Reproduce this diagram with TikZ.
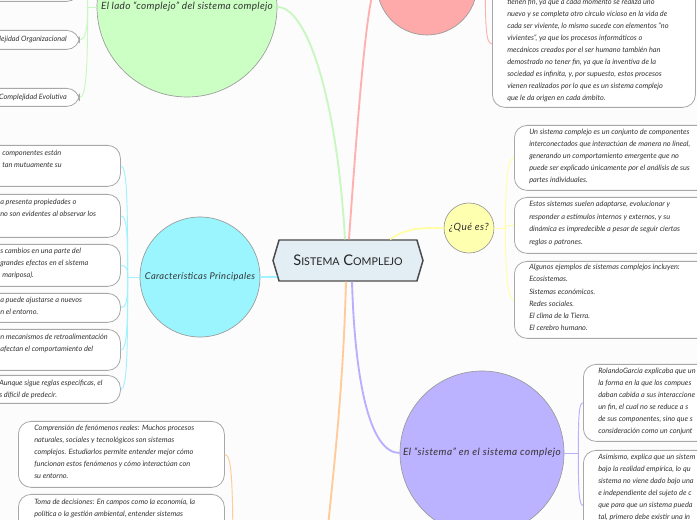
\documentclass[tikz,border=0pt]{standalone}
\usepackage{fontspec}
\setmainfont{Lato}
\usetikzlibrary{shapes.symbols,calc}

\definecolor{paper}{HTML}{FCFCFC}
\definecolor{inktext}{HTML}{333333}
\definecolor{rimgray}{HTML}{9A9A9A}
\definecolor{leafline}{HTML}{A8A8A8}
\definecolor{coreline}{HTML}{4A4A4A}
\definecolor{corefill}{HTML}{E2EEF4}
\definecolor{grnfill}{HTML}{CCFFC4}
\definecolor{grnline}{HTML}{C8F8C0}
\definecolor{redfill}{HTML}{FFAAAA}
\definecolor{redline}{HTML}{FFB0B0}
\definecolor{yelfill}{HTML}{FFFFB0}
\definecolor{yelline}{HTML}{FFFFA8}
\definecolor{cyafill}{HTML}{9BF5FF}
\definecolor{cyaline}{HTML}{A0F2FF}
\definecolor{purfill}{HTML}{BBB3FF}
\definecolor{purline}{HTML}{B8B0FF}
\definecolor{orgline}{HTML}{FFCC99}

\def\pxu{0.75pt}
\newcommand{\leaffont}{\fontsize{5.5}{9}\selectfont\itshape}
\newcommand{\topicfont}{\fontsize{7.5}{8.5}\selectfont\itshape\addfontfeatures{LetterSpace=5}}

\begin{document}
\begin{tikzpicture}[x=0.75pt,y=-0.75pt,
  leaf/.style={draw=leafline, fill=white, rounded corners=9.5pt, line width=0.6pt, inner sep=0pt, anchor=north west},
  leaftext/.style={font=\leaffont, text=inktext, align=left, inner sep=0pt, anchor=north west},
  topic/.style={circle, draw=rimgray, line width=0.5pt, font=\topicfont, text=inktext, inner sep=0pt},
  twig/.style={line width=0.7pt},
  limb/.style={line width=1.4pt}]
\useasboundingbox (0,0) rectangle (697,520);
\clip (0,0) rectangle (697,520);
\fill[paper] (0,0) rectangle (697,520);

\node[shape=signal, signal to=east and west, signal pointer angle=147, draw=coreline, fill=corefill, line width=1.1pt,
  minimum width=150*\pxu, minimum height=41*\pxu, inner sep=0pt, text=black!85] (core) at (348,260.5)
  {\fontsize{11}{11}\selectfont S{\fontsize{8}{8}\selectfont ISTEMA} C{\fontsize{8}{8}\selectfont OMPLEJO}};

\node[topic, fill=grnfill, minimum size=180*\pxu, font=\fontsize{7.5}{8.5}\selectfont\itshape\addfontfeatures{LetterSpace=3}] (lado) at (187,7) {El lado “complejo” del sistema complejo};
\node[topic, fill=redfill, minimum size=100*\pxu] (ciclo) at (427,-15) {};
\node[topic, fill=yelfill, minimum size=50*\pxu] (quees) at (469,228) {¿Qué es?};
\node[topic, fill=cyafill, minimum size=120*\pxu, font=\fontsize{7}{8}\selectfont\itshape\addfontfeatures{LetterSpace=4}] (cara) at (200,277) {Características Principales};
\node[topic, fill=purfill, minimum size=164*\pxu] (sist) at (482,453) {El “sistema” en el sistema complejo};
\coordinate (orgc) at (318,640);

\node[leaf, minimum width=139*\pxu, minimum height=26*\pxu] (gbox0) at (-60,-25) {};
\node[leaf, minimum width=139*\pxu, minimum height=19*\pxu] (gbox1) at (-60,30) {};
\node[leaf, minimum width=139*\pxu, minimum height=18*\pxu] (gbox2) at (-60,88) {};
\node[leaftext, anchor=east] (gtxt1) at (67,39.5) {Complejidad Organizacional};
\node[leaftext, anchor=east] (gtxt2) at (67,97) {Complejidad Evolutiva};

\node[leaf, minimum width=203*\pxu, minimum height=127*\pxu] (rbox) at (492,-20) {};
\node[leaftext] (rtxt) at (507,-1) {tienen fin, ya que a cada momento se realiza uno\\
nuevo y se completa otro circulo vicioso en la vida de\\
cada ser viviente, lo mismo sucede con elementos “no\\
vivientes”, ya que los procesos informáticos o\\
mecánicos creados por el ser humano también han\\
demostrado no tener fin, ya que la inventiva de la\\
sociedad es infinita, y, por supuesto, estos procesos\\
vienen realizados por lo que es un sistema complejo\\
que le da origen en cada ámbito.};

\node[leaf, minimum width=250*\pxu, minimum height=65*\pxu] (ybox1) at (514,125) {};
\node[leaf, minimum width=250*\pxu, minimum height=56*\pxu] (ybox2) at (514,197) {};
\node[leaf, minimum width=250*\pxu, minimum height=77*\pxu] (ybox3) at (514,261) {};
\node[leaftext] (ytxt1) at (529,129) {Un sistema complejo es un conjunto de componentes\\
interconectados que interactúan de manera no lineal,\\
generando un comportamiento emergente que no\\
puede ser explicado únicamente por el análisis de sus\\
partes individuales.};
\node[leaftext, font=\fontsize{5.5}{9.4}\selectfont\itshape] (ytxt2) at (529,201) {Estos sistemas suelen adaptarse, evolucionar y\\
responder a estímulos internos y externos, y su\\
dinámica es impredecible a pesar de seguir ciertas\\
reglas o patrones.};
\node[leaftext, font=\fontsize{5.5}{9.2}\selectfont\itshape] (ytxt3) at (529,264) {Algunos ejemplos de sistemas complejos incluyen:\\
Ecosistemas.\\
Sistemas económicos.\\
Redes sociales.\\
El clima de la Tierra.\\
El cerebro humano.};

\node[leaf, minimum width=180*\pxu, minimum height=41*\pxu] (cbox1) at (-60,145) {};
\node[leaf, minimum width=180*\pxu, minimum height=43*\pxu] (cbox2) at (-60,194) {};
\node[leaf, minimum width=180*\pxu, minimum height=42*\pxu] (cbox3) at (-60,244) {};
\node[leaf, minimum width=180*\pxu, minimum height=29*\pxu] (cbox4) at (-60,293) {};
\node[leaf, minimum width=180*\pxu, minimum height=41*\pxu] (cbox5) at (-60,329) {};
\node[leaf, minimum width=180*\pxu, minimum height=28*\pxu] (cbox6) at (-60,375) {};
\node[leaftext] (ctxt1) at (2,150) {componentes están\\tan mutuamente su};
\node[leaftext] (ctxt2) at (0,199) {a presenta propiedades o\\no son evidentes al observar los};
\node[leaftext] (ctxt3) at (0,248) {s cambios en una parte del\\grandes efectos en el sistema\\\hspace{1.5pt}mariposa).};
\node[leaftext] (ctxt4) at (0,297) {a puede ajustarse a nuevos\\n el entorno.};
\node[leaftext] (ctxt5) at (0,334) {n mecanismos de retroalimentación\\afectan el comportamiento del};
\node[leaftext] (ctxt6) at (-1,380) {Aunque sigue reglas específicas, el\\s difícil de predecir.};

\node[leaf, minimum width=230*\pxu, minimum height=77*\pxu] (pbox1) at (583,364) {};
\node[leaf, minimum width=230*\pxu, minimum height=110*\pxu] (pbox2) at (583,450) {};
\node[leaftext] (ptxt1) at (598,368) {RolandoGarcía explicaba que un\\
la forma en la que los compues\\
daban cabida a sus interaccione\\
un fin, el cual no se reduce a s\\
de sus componentes, sino que s\\
consideración como un conjunt};
\node[leaftext] (ptxt2) at (598,454) {Asimismo, explica que un sistem\\
bajo la realidad empírica, lo qu\\
sistema no viene dado bajo una\\
e independiente del sujeto de c\\
que para que un sistema pueda\\
tal, primero debe existir una in};

\node[leaf, minimum width=206*\pxu, minimum height=66*\pxu] (obox1) at (18,421) {};
\node[leaf, minimum width=206*\pxu, minimum height=70*\pxu] (obox2) at (18,494) {};
\node[leaftext] (otxt1) at (34,425) {Comprensión de fenómenos reales: Muchos procesos\\
naturales, sociales y tecnológicos son sistemas\\
complejos. Estudiarlos permite entender mejor cómo\\
funcionan estos fenómenos y cómo interactúan con\\
su entorno.};
\node[leaftext] (otxt2) at (34,499) {Toma de decisiones: En campos como la economía, la\\
política o la gestión ambiental, entender sistemas};

\draw[limb, grnline] ($(core.north)+(-3,0)$) .. controls +(-8,-140) and +(30,0) .. (lado.east);
\draw[twig, grnline] (lado.west) -- ++(-9,0) coordinate (gfork);
\foreach \b/\d in {gbox0/-10, gbox1/20, gbox2/65}
  \draw[twig, grnline] (gfork) .. controls +(0,\d) and +(6,0) .. (\b.east);

\draw[limb, redline] ($(core.north)+(1,0)$) .. controls +(12,-170) and +(-8,5) .. (ciclo.west);
\draw[twig, redline] (ciclo.east) -- ++(8,0) coordinate (rfork) .. controls +(0,42) and +(-6,0) .. (rbox.west);

\draw[limb, yelline] ($(core.north)+(42,0)$) .. controls +(18,-12) and +(-22,0) .. (quees.west);
\draw[twig, yelline] (quees.east) -- ++(11,0) coordinate (yfork);
\foreach \b/\d in {ybox1/-50, ybox2/-2, ybox3/50}
  \draw[twig, yelline] (yfork) .. controls +(0,\d) and +(-6,0) .. (\b.west);

\draw[limb, cyaline] (cara.east) -- (core.193);
\draw[twig, cyaline] (cara.west) -- ++(-12,0) coordinate (cfork);
\foreach \b/\d in {cbox1/-80, cbox2/-45, cbox3/-8, cbox4/22, cbox5/52, cbox6/80}
  \draw[twig, cyaline] (cfork) .. controls +(0,\d) and +(6,0) .. (\b.east);

\draw[limb, purline] ($(core.south)+(4,0)$) .. controls +(3,100) and +(-30,0) .. (sist.west);
\draw[twig, purline] (sist.east) -- ++(14,0) coordinate (pfork);
\foreach \b/\d in {pbox1/-38, pbox2/38}
  \draw[twig, purline] (pfork) .. controls +(0,\d) and +(-4,0) .. (\b.west);

\draw[limb, orgline] ($(core.south)+(-2,0)$) .. controls +(-4,150) and +(8,-120) .. (orgc);
\coordinate (ofork) at (233,600);
\foreach \b/\d in {obox1/-110, obox2/-50}
  \draw[twig, orgline] (ofork) .. controls +(0,\d) and +(8,0) .. (\b.east);
\end{tikzpicture}
\end{document}
